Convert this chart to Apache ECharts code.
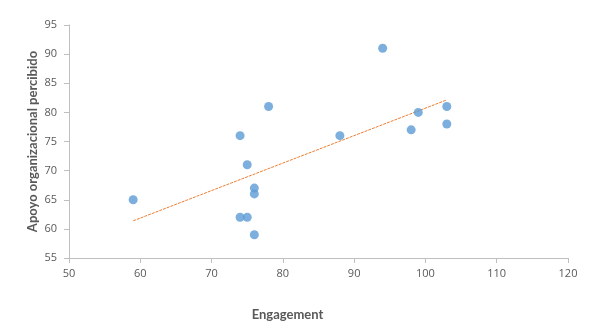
<!DOCTYPE html>
<html>
<head>
<meta charset="utf-8">
<script src="https://cdn.jsdelivr.net/npm/echarts@6/dist/echarts.min.js"></script>
<style>html,body{margin:0;padding:0;background:#fff}#c{width:593px;height:329px}</style>
</head>
<body>
<div id="c"></div>
<script>
var engagement = [59, 74, 75, 78, 74, 75, 76, 76, 76, 88, 94, 98, 99, 103, 103];
var apoyo      = [65, 76, 71, 81, 62, 62, 67, 66, 59, 76, 91, 77, 80, 81, 78];
var xTitle = 'Engagement';
var yTitle = 'Apoyo organizacional percibido';

var points = engagement.map(function (x, i) { return [x, apoyo[i]]; });
// linear least-squares trendline from the data
var n = engagement.length, mx = 0, my = 0;
for (var i = 0; i < n; i++) { mx += engagement[i]; my += apoyo[i]; }
mx /= n; my /= n;
var sxy = 0, sxx = 0;
for (var i = 0; i < n; i++) { sxy += (engagement[i]-mx)*(apoyo[i]-my); sxx += (engagement[i]-mx)*(engagement[i]-mx); }
var slope = sxy / sxx, icpt = my - slope * mx;
var xmin = Math.min.apply(null, engagement), xmax = Math.max.apply(null, engagement);
var trend = [[xmin, icpt + slope * xmin], [xmax, icpt + slope * xmax]];

var font = 'Open Sans';
var tfont = 'Lato';
var chart = echarts.init(document.getElementById('c'));
chart.setOption({
  animation: false,
  grid: { left: 69, right: 25, top: 25, bottom: 71 },
  xAxis: {
    type: 'value', min: 50, max: 120, interval: 10,
    name: xTitle, nameLocation: 'middle', nameGap: 50, nameMoveOverlap: false,
    nameTextStyle: { color: '#595959', fontFamily: tfont, fontSize: 13, fontWeight: 'bold', padding: [0, 62, 0, 0] },
    axisLine: { show: true, lineStyle: { color: '#bfbfbf', width: 1 } },
    axisTick: { show: true, length: 5, lineStyle: { color: '#bfbfbf' } },
    axisLabel: { color: '#595959', fontFamily: font, fontSize: 11, margin: 10 },
    splitLine: { show: false }
  },
  yAxis: {
    type: 'value', min: 55, max: 95, interval: 5,
    name: yTitle, nameLocation: 'middle', nameGap: 30, nameRotate: 90, nameMoveOverlap: false,
    nameTextStyle: { color: '#595959', fontFamily: tfont, fontSize: 13, fontWeight: 'bold' },
    axisLine: { show: true, lineStyle: { color: '#bfbfbf', width: 1 } },
    axisTick: { show: true, length: 5, lineStyle: { color: '#bfbfbf' } },
    axisLabel: { color: '#595959', fontFamily: font, fontSize: 11, margin: 12 },
    splitLine: { show: false }
  },
  series: [
    {
      type: 'line', data: trend, showSymbol: false, symbol: 'none',
      lineStyle: { color: '#ed7d31', width: 1, type: [3, 1] }, z: 1
    },
    {
      type: 'scatter', data: points, symbol: 'circle', symbolSize: 9,
      itemStyle: { color: '#5b9bd5' }, z: 2
    }
  ]
});
</script>
</body>
</html>
